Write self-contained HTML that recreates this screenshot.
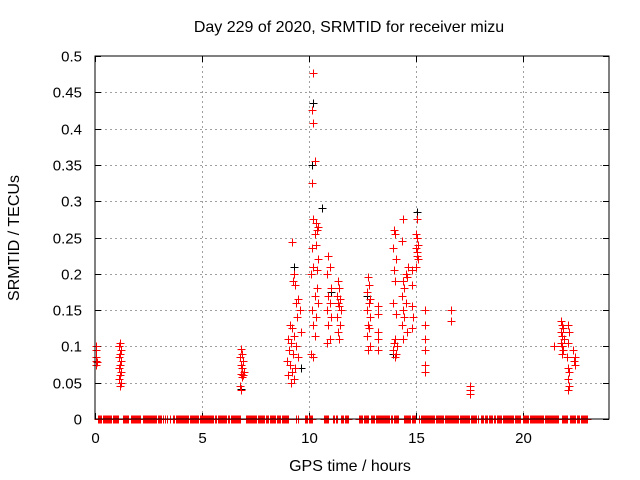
<!DOCTYPE html>
<html><head><meta charset="utf-8"><style>
body{margin:0;background:#fff}
svg{display:block;font-family:"Liberation Sans",sans-serif}
</style></head><body>
<svg id="chart" width="640" height="480" xmlns="http://www.w3.org/2000/svg">
<rect width="640" height="480" fill="#fff"/>
<text x="349" y="32" text-anchor="middle" font-size="16">Day 229 of 2020, SRMTID for receiver mizu</text>
<text x="350" y="471" text-anchor="middle" font-size="16">GPS time / hours</text>
<text transform="translate(19,238) rotate(-90)" text-anchor="middle" font-size="16">SRMTID / TECUs</text>
<g id="grid"></g>
<g id="ticks"></g>
<g id="marks"></g>
<rect x="95" y="56" width="514" height="363" fill="none" stroke="#000" stroke-width="1"/>
</svg>
<script>
const xTicks=[0,5,10,15,20];
const yTicks=[0,0.05,0.1,0.15,0.2,0.25,0.3,0.35,0.4,0.45,0.5];
const yTickLabels=["0","0.05","0.1","0.15","0.2","0.25","0.3","0.35","0.4","0.45","0.5"];
const zeroSegments=[[0.13,0.3],[0.37,1.1],[1.29,1.57],[1.67,2.15],[2.22,3.09],[3.18,3.2],[3.28,3.3],[3.38,3.4],[3.5,3.52],[3.66,4.38],[4.43,5.67],[5.72,5.88],[5.94,6.26],[6.33,6.8],[7.04,7.92],[8.0,8.4],[8.51,9.01],[9.37,9.39],[9.48,9.5],[9.82,10.14],[10.67,10.9],[11.13,11.29],[11.5,11.82],[12.34,12.74],[12.9,13.86],[13.97,14.18],[14.43,14.75],[14.81,14.98],[15.15,16.12],[16.17,17.51],[17.56,17.88],[18.04,18.31],[18.39,18.57],[18.65,18.96],[19.04,19.87],[19.99,21.66],[21.79,22.06],[22.17,22.43],[22.52,22.97]];
const redTimes=[0.05,0.05,0.05,0.05,0.05,0.1,
1.15,1.1,1.2,1.15,1.1,1.2,1.15,1.1,1.2,1.15,1.1,1.2,1.15,
6.8,6.85,6.75,6.9,6.8,6.85,6.95,6.8,6.9,6.85,6.75,6.8,
9.2,9.3,9.25,9.35,9.5,9.4,9.55,9.45,9.1,9.2,9.6,9.3,9.0,9.15,9.4,9.05,9.25,9.5,8.95,9.1,9.35,9.2,9.0,9.3,9.15,
10.2,10.15,10.2,10.25,10.15,10.2,10.3,10.4,10.35,10.25,10.3,10.15,10.4,10.2,10.1,10.35,10.25,10.4,10.15,10.3,10.2,10.35,10.1,10.25,10.2,
10.9,10.95,10.85,11.0,10.9,10.95,10.85,11.0,10.9,10.95,10.85,
11.35,11.4,11.3,11.45,11.35,11.4,11.5,11.3,11.45,11.35,11.4,
12.75,12.8,12.7,12.85,12.8,12.7,12.85,12.75,12.8,12.7,12.85,12.75,
13.2,13.2,13.2,13.2,13.2,
13.95,14.0,13.9,14.05,13.95,14.0,13.9,14.05,14.0,13.95,14.1,13.9,14.05,14.0,
14.4,14.35,14.5,14.4,14.45,14.35,14.5,14.4,14.45,14.35,14.55,14.4,14.6,14.55,
14.8,14.8,14.8,14.85,14.8,
15.05,15.0,15.05,15.1,15.0,15.05,15.1,15.0,15.05,
15.4,15.4,15.4,15.4,15.4,15.4,
16.6,16.6,
17.5,17.5,17.5,
21.45,21.75,21.8,21.85,21.75,21.8,21.9,21.75,21.8,21.85,21.8,
22.1,22.15,22.1,22.05,22.1,22.15,22.1,22.15,22.1,
22.3,22.4,22.35,22.4];
const redValues=[0.1,0.095,0.085,0.08,0.075,0.078,
0.105,0.1,0.095,0.09,0.085,0.08,0.075,0.07,0.065,0.06,0.055,0.05,0.045,
0.097,0.09,0.085,0.08,0.075,0.07,0.065,0.062,0.06,0.058,0.045,0.04,
0.244,0.2,0.19,0.185,0.165,0.16,0.15,0.14,0.13,0.125,0.12,0.115,0.11,0.105,0.1,0.095,0.09,0.085,0.08,0.075,0.07,0.065,0.06,0.055,0.05,
0.477,0.425,0.408,0.355,0.325,0.275,0.27,0.265,0.26,0.255,0.24,0.235,0.22,0.21,0.2,0.18,0.17,0.16,0.15,0.14,0.13,0.205,0.09,0.115,0.085,
0.225,0.21,0.2,0.18,0.17,0.16,0.15,0.14,0.13,0.11,0.105,
0.19,0.18,0.17,0.165,0.16,0.155,0.15,0.14,0.13,0.12,0.11,
0.195,0.185,0.175,0.165,0.16,0.15,0.14,0.13,0.125,0.115,0.1,0.095,
0.155,0.145,0.12,0.11,0.095,
0.26,0.255,0.235,0.22,0.205,0.19,0.16,0.145,0.11,0.105,0.1,0.095,0.09,0.085,
0.275,0.245,0.2,0.19,0.18,0.17,0.16,0.15,0.14,0.13,0.12,0.11,0.21,0.195,
0.205,0.185,0.155,0.14,0.125,
0.275,0.255,0.25,0.24,0.235,0.225,0.22,0.21,0.23,
0.15,0.13,0.11,0.095,0.075,0.065,
0.15,0.135,
0.045,0.04,0.035,
0.1,0.135,0.13,0.125,0.12,0.115,0.11,0.105,0.1,0.095,0.09,
0.13,0.12,0.105,0.085,0.07,0.065,0.055,0.045,0.04,
0.095,0.085,0.08,0.075];
const blackTimes=[10.2,10.15,9.3,10.6,15.05,22.1,6.8,13.9,11.0,12.7,14.8,9.6];
const blackValues=[0.435,0.35,0.21,0.29,0.285,0.04,0.042,0.09,0.175,0.17,0.125,0.07];

const X0=95,X1=609,Y0=419,Y1=56;
function xs(h){return X0+(h/24)*(X1-X0);}
function ys(v){return Y0-(v/0.5)*(Y0-Y1);}
const NS="http://www.w3.org/2000/svg";
const grid=document.getElementById('grid'),ticks=document.getElementById('ticks'),marks=document.getElementById('marks');
function line(p,x1,y1,x2,y2,st,dash){const l=document.createElementNS(NS,'line');l.setAttribute('x1',x1);l.setAttribute('y1',y1);l.setAttribute('x2',x2);l.setAttribute('y2',y2);l.setAttribute('stroke',st);l.setAttribute('stroke-width',1);if(dash)l.setAttribute('stroke-dasharray',dash);p.appendChild(l);return l;}
function txt(x,y,s,anchor,name){const t=document.createElementNS(NS,'text');t.setAttribute('x',x);t.setAttribute('y',y);t.setAttribute('text-anchor',anchor);t.setAttribute('font-size',15);t.textContent=s;


ticks.appendChild(t);}
xTicks.forEach(h=>{const x=Math.round(xs(h))+0.5;
if(h>0){const g=line(grid,x,Y1,x,Y0,'#a0a0a0','2,3');

}
line(ticks,x,Y0,x,Y0-6,'#000');line(ticks,x,Y1,x,Y1+6,'#000');
txt(x,443,String(h),'middle','x-tick-label');});
yTicks.forEach((v,i)=>{const y=Math.round(ys(v))+0.5;
if(v>0&&v<0.5){const g=line(grid,X0,y,X1,y,'#a0a0a0','2,3');

}
line(ticks,X0,y,X0+6,y,'#000');line(ticks,X1,y,X1-6,y,'#000');
txt(82,y+5,yTickLabels[i],'end','y-tick-label');});
function plus(h,v,c,name){const x=Math.round(xs(h))+0.5,y=Math.round(ys(v))+0.5;
const p=document.createElementNS(NS,'path');p.setAttribute('d',`M${x-4} ${y}H${x+4}M${x} ${y-4}V${y+4}`);p.setAttribute('stroke',c);p.setAttribute('stroke-width',1);p.setAttribute('fill','none');


marks.appendChild(p);}
blackTimes.forEach((h,i)=>plus(h,blackValues[i],'#000','black-point'));
zeroSegments.forEach(s=>{for(let h=s[0];h<=s[1]+1e-9;h+=0.05)plus(h,0,'#f00','zero-point');});
redTimes.forEach((h,i)=>plus(h,redValues[i],'#f00','red-point'));
</script>
</body></html>
